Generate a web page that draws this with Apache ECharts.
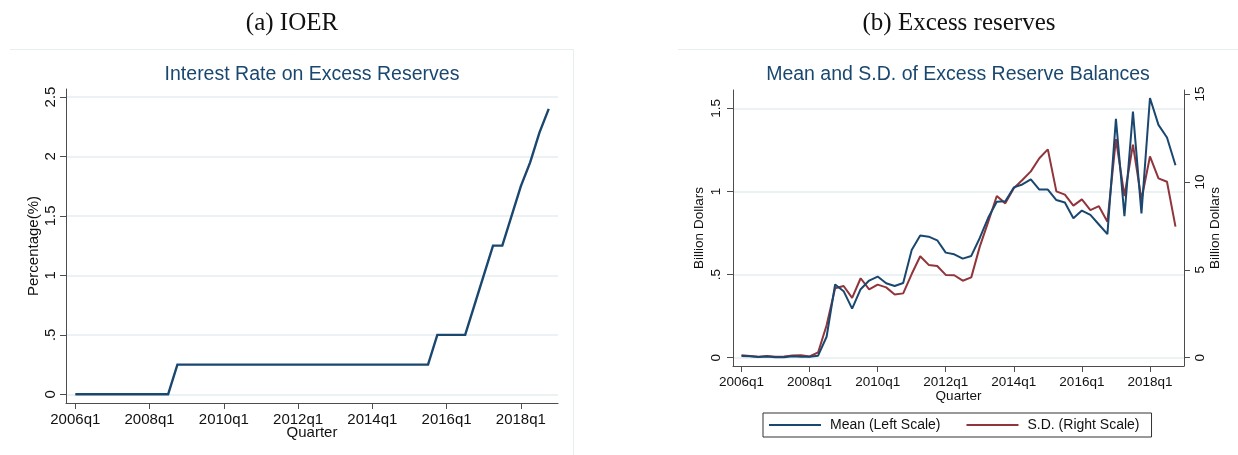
<!DOCTYPE html>
<html>
<head>
<meta charset="utf-8">
<title>IOER and excess reserves</title>
<script src="https://cdn.jsdelivr.net/npm/echarts@6/dist/echarts.min.js"></script>
<style>
  html, body { margin: 0; padding: 0; background: #ffffff; }
  #chart { width: 1238px; height: 455px; }
</style>
</head>
<body>
<div id="chart"></div>
<script>
// Quarters 2006q1 .. 2018q4 (x position = index in this list)
const quarters = [
  '2006q1','2006q2','2006q3','2006q4','2007q1','2007q2','2007q3','2007q4',
  '2008q1','2008q2','2008q3','2008q4','2009q1','2009q2','2009q3','2009q4',
  '2010q1','2010q2','2010q3','2010q4','2011q1','2011q2','2011q3','2011q4',
  '2012q1','2012q2','2012q3','2012q4','2013q1','2013q2','2013q3','2013q4',
  '2014q1','2014q2','2014q3','2014q4','2015q1','2015q2','2015q3','2015q4',
  '2016q1','2016q2','2016q3','2016q4','2017q1','2017q2','2017q3','2017q4',
  '2018q1','2018q2','2018q3','2018q4'
];
// Labelled quarters on the time axis (indices into quarters)
const xTickIdx = [0, 8, 16, 24, 32, 40, 48];

// Interest rate on excess reserves, percent
const ioer = [
  0, 0, 0, 0, 0, 0, 0, 0, 0, 0, 0,
  0.25, 0.25, 0.25, 0.25, 0.25, 0.25, 0.25, 0.25, 0.25, 0.25, 0.25, 0.25, 0.25, 0.25,
  0.25, 0.25, 0.25, 0.25, 0.25, 0.25, 0.25, 0.25, 0.25, 0.25, 0.25, 0.25, 0.25, 0.25,
  0.5, 0.5, 0.5, 0.5,
  0.75, 1.0, 1.25, 1.25, 1.5, 1.75, 1.95, 2.2, 2.4
];
const ioerTicks = [0, 0.5, 1, 1.5, 2, 2.5];
const ioerTickLabels = ['0', '.5', '1', '1.5', '2', '2.5'];

// Mean of excess reserve balances, billion dollars (left scale)
const meanReserves = [
  0.010, 0.009, 0.004, 0.007, 0.003, 0.003, 0.008, 0.006, 0.006, 0.012, 0.126,
  0.44, 0.40, 0.295, 0.412, 0.464, 0.488, 0.448, 0.431, 0.449,
  0.648, 0.735, 0.728, 0.706, 0.632, 0.622, 0.596, 0.612,
  0.72, 0.843, 0.938, 0.941, 1.024, 1.042, 1.073, 1.011, 1.011,
  0.948, 0.933, 0.839, 0.885, 0.859, 0.801, 0.743,
  1.437, 0.851, 1.48, 0.868, 1.562, 1.40, 1.324, 1.157
];
// Standard deviation of excess reserve balances, billion dollars (right scale)
const sdReserves = [
  0.14, 0.10, 0.06, 0.10, 0.06, 0.07, 0.13, 0.14, 0.07, 0.30, 1.85,
  3.95, 4.08, 3.40, 4.52, 3.89, 4.16, 4.00, 3.60, 3.66,
  4.76, 5.77, 5.28, 5.22, 4.71, 4.69, 4.38, 4.57,
  6.32, 7.74, 9.20, 8.78, 9.64, 10.11, 10.60, 11.35, 11.85,
  9.46, 9.28, 8.65, 9.01, 8.40, 8.62, 7.74,
  12.44, 9.20, 12.12, 9.00, 11.45, 10.20, 10.01, 7.46
];
const meanTicks = [0, 0.5, 1, 1.5];
const meanTickLabels = ['0', '.5', '1', '1.5'];
const sdTicks = [0, 5, 10, 15];
const sdTickLabels = ['0', '5', '10', '15'];

const NAVY = '#1a476f';
const MAROON = '#90353b';
const AXIS = '#4d4d4d';
const GRID = '#e6eef0';
const TEXT = '#111111';
const SANS = '"Liberation Sans", Arial, sans-serif';
const SERIF = '"Liberation Serif", "Times New Roman", serif';

const toPairs = arr => arr.map((v, i) => [i, v]);
const labelFrom = (ticks, labels) => v => {
  const k = ticks.findIndex(t => Math.abs(t - v) < 1e-9);
  return k >= 0 ? labels[k] : '';
};

function timeAxis(gridIndex, fontSize, nameGap, margin) {
  return {
    type: 'value', gridIndex, min: -1, max: 52,
    axisLine: { show: true, onZero: false, lineStyle: { color: AXIS, width: 1 } },
    axisTick: { show: true, length: 6, customValues: xTickIdx, lineStyle: { color: AXIS } },
    axisLabel: {
      customValues: xTickIdx, color: TEXT, fontFamily: SANS, fontSize, margin,
      formatter: v => quarters[Math.round(v)] || ''
    },
    splitLine: { show: false },
    name: 'Quarter', nameLocation: 'middle', nameGap, nameMoveOverlap: false,
    nameTextStyle: { color: TEXT, fontFamily: SANS, fontSize }
  };
}

function valueAxis(opts) {
  return {
    type: 'value', gridIndex: opts.gridIndex, position: opts.position,
    min: opts.min, max: opts.max,
    axisLine: { show: true, onZero: false, lineStyle: { color: AXIS, width: 1 } },
    axisTick: { show: true, length: 6, customValues: opts.ticks, lineStyle: { color: AXIS } },
    axisLabel: {
      customValues: opts.ticks, rotate: 90, color: TEXT, fontFamily: SANS,
      fontSize: opts.fontSize, margin: opts.margin,
      formatter: labelFrom(opts.ticks, opts.labels)
    },
    splitLine: { show: opts.split, lineStyle: { color: GRID, width: 1.5 } },
    name: opts.name, nameLocation: 'middle', nameGap: opts.nameGap, nameRotate: 90,
    nameMoveOverlap: false,
    nameTextStyle: { color: TEXT, fontFamily: SANS, fontSize: opts.fontSize }
  };
}

const chart = echarts.init(document.getElementById('chart'), null, { renderer: 'canvas' });

chart.setOption({
  animation: false,
  backgroundColor: '#ffffff',
  graphic: [
    // panel frames
    { type: 'line', shape: { x1: 10, y1: 49.5, x2: 573, y2: 49.5 }, style: { stroke: '#e9eff1', lineWidth: 1 }, silent: true },
    { type: 'line', shape: { x1: 573.5, y1: 49, x2: 573.5, y2: 455 }, style: { stroke: '#e9eff1', lineWidth: 1 }, silent: true },
    { type: 'line', shape: { x1: 678, y1: 49.5, x2: 1238, y2: 49.5 }, style: { stroke: '#e9eff1', lineWidth: 1 }, silent: true },
    // panel captions
    { type: 'text', x: 292, y: 23, style: { text: '(a) IOER', fill: TEXT, font: '25px ' + SERIF, textAlign: 'center', textVerticalAlign: 'middle' } },
    { type: 'text', x: 959, y: 23, style: { text: '(b) Excess reserves', fill: TEXT, font: '25px ' + SERIF, textAlign: 'center', textVerticalAlign: 'middle' } },
    // plot titles
    { type: 'text', x: 312, y: 75, style: { text: 'Interest Rate on Excess Reserves', fill: NAVY, font: '19.5px ' + SANS, textAlign: 'center', textVerticalAlign: 'middle' } },
    { type: 'text', x: 958, y: 75, style: { text: 'Mean and S.D. of Excess Reserve Balances', fill: NAVY, font: '19.5px ' + SANS, textAlign: 'center', textVerticalAlign: 'middle' } }
  ],
  legend: {
    data: ['Mean (Left Scale)', 'S.D. (Right Scale)'],
    left: 763, top: 413,
    orient: 'horizontal',
    icon: 'rect',
    padding: [5, 12, 5, 6],
    itemWidth: 52, itemHeight: 2, itemGap: 26,
    borderColor: '#333333', borderWidth: 1, borderRadius: 0,
    textStyle: { color: TEXT, fontFamily: SANS, fontSize: 14, padding: [0, 0, 0, 4] }
  },
  grid: [
    { left: 66, top: 89, width: 492, height: 314 },
    { left: 733, top: 90, width: 451, height: 276 }
  ],
  xAxis: [
    timeAxis(0, 15, 22, 9),
    timeAxis(1, 13.5, 23, 9)
  ],
  yAxis: [
    valueAxis({ gridIndex: 0, position: 'left', min: -0.073, max: 2.567, ticks: ioerTicks, labels: ioerTickLabels,
                fontSize: 15, margin: 8, split: true, name: 'Percentage(%)', nameGap: 25 }),
    valueAxis({ gridIndex: 1, position: 'left', min: -0.05, max: 1.61, ticks: meanTicks, labels: meanTickLabels,
                fontSize: 13.5, margin: 10, split: true, name: 'Billion Dollars', nameGap: 27 }),
    valueAxis({ gridIndex: 1, position: 'right', min: -0.472, max: 15.23, ticks: sdTicks, labels: sdTickLabels,
                fontSize: 13.5, margin: 9, split: false, name: 'Billion Dollars', nameGap: 24 })
  ],
  series: [
    {
      name: 'IOER', type: 'line', xAxisIndex: 0, yAxisIndex: 0,
      data: toPairs(ioer), symbol: 'none', silent: true,
      lineStyle: { color: NAVY, width: 2.4, join: 'miter' }, itemStyle: { color: NAVY }
    },
    {
      name: 'S.D. (Right Scale)', type: 'line', xAxisIndex: 1, yAxisIndex: 2,
      data: toPairs(sdReserves), symbol: 'none', silent: true, z: 2,
      lineStyle: { color: MAROON, width: 2 }, itemStyle: { color: MAROON }
    },
    {
      name: 'Mean (Left Scale)', type: 'line', xAxisIndex: 1, yAxisIndex: 1,
      data: toPairs(meanReserves), symbol: 'none', silent: true, z: 3,
      lineStyle: { color: NAVY, width: 2 }, itemStyle: { color: NAVY }
    }
  ]
});
</script>
</body>
</html>
